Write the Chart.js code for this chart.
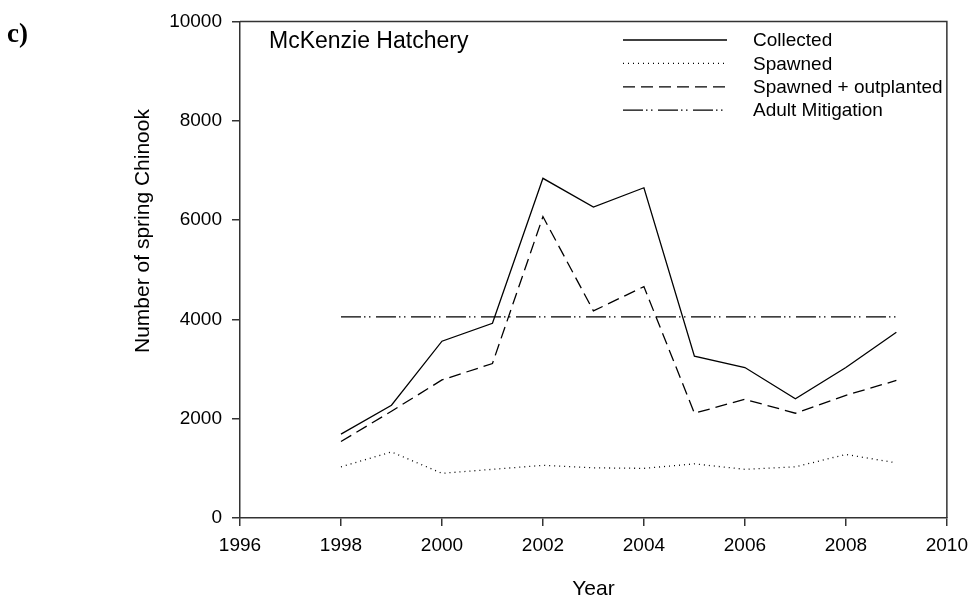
<!DOCTYPE html>
<html>
<head>
<meta charset="utf-8">
<script src="https://cdn.jsdelivr.net/npm/chart.js@4.4.1/dist/chart.umd.min.js"></script>
<style>
  html, body { margin: 0; padding: 0; background: #fff; }
  #wrap { width: 976px; height: 602px; position: relative; }
</style>
</head>
<body>
<div id="wrap"><canvas id="chart"></canvas></div>
<script>
// data
const years = [1998, 1999, 2000, 2001, 2002, 2003, 2004, 2005, 2006, 2007, 2008, 2009];
const collected = [1690, 2270, 3560, 3920, 6840, 6260, 6650, 3260, 3030, 2400, 3030, 3740];
const spawned = [1030, 1330, 900, 980, 1060, 1010, 1000, 1090, 980, 1030, 1280, 1110];
const spawnedOutplanted = [1540, 2150, 2780, 3110, 6070, 4170, 4660, 2110, 2390, 2110, 2470, 2770];
const adultMitigation = [4050, 4050, 4050, 4050, 4050, 4050, 4050, 4050, 4050, 4050, 4050, 4050];

const FONT = "'Liberation Sans', Arial, sans-serif";

function pts(vals) {
  return years.map((y, i) => ({ x: y, y: vals[i] }));
}

function line(label, vals, dash) {
  return {
    label: label,
    data: pts(vals),
    borderColor: "#000",
    borderWidth: 1.3,
    borderDash: dash,
    pointRadius: 0,
    tension: 0,
    fill: false
  };
}

// frame, legend, panel text and axis titles
const decor = {
  id: "decor",
  afterDraw(chart) {
    const ctx = chart.ctx;
    const a = chart.chartArea;
    ctx.save();
    ctx.strokeStyle = "#333";
    ctx.lineWidth = 1.5;
    ctx.beginPath();
    ctx.moveTo(a.left, a.top);
    ctx.lineTo(a.right, a.top);
    ctx.lineTo(a.right, a.bottom);
    ctx.stroke();

    ctx.fillStyle = "#000";
    ctx.textBaseline = "middle";
    ctx.textAlign = "left";
    ctx.font = "23px " + FONT;
    ctx.fillText("McKenzie Hatchery", 269, 42);

    ctx.font = "bold 27px 'Liberation Serif', 'Times New Roman', serif";
    ctx.fillText("c)", 7, 35);

    // legend
    ctx.font = "19px " + FONT;
    chart.data.datasets.forEach((ds, i) => {
      const y = 40 + i * 23.4;
      ctx.strokeStyle = "#000";
      ctx.lineWidth = 1.3;
      ctx.setLineDash(ds.borderDash || []);
      ctx.beginPath();
      ctx.moveTo(623, y);
      ctx.lineTo(727, y);
      ctx.stroke();
      ctx.setLineDash([]);
      ctx.fillText(ds.label, 753, y + 1);
    });

    // axis titles
    ctx.font = "21px " + FONT;
    ctx.textAlign = "center";
    ctx.fillText("Year", (a.left + a.right) / 2, 589);
    ctx.translate(143, 231);
    ctx.rotate(-Math.PI / 2);
    ctx.fillText("Number of spring Chinook", 0, 0);
    ctx.restore();
  }
};

new Chart(document.getElementById("chart"), {
  type: "line",
  data: {
    datasets: [
      line("Collected", collected, []),
      line("Spawned", spawned, [1, 4]),
      line("Spawned + outplanted", spawnedOutplanted, [12, 6]),
      line("Adult Mitigation", adultMitigation, [20, 3, 1.5, 3.5, 1.5, 5.5])
    ]
  },
  options: {
    responsive: true,
    maintainAspectRatio: false,
    animation: false,
    layout: { padding: { top: 14, right: 26, left: 0, bottom: 0 } },
    plugins: {
      legend: { display: false },
      tooltip: { enabled: false }
    },
    scales: {
      x: {
        type: "linear",
        min: 1996,
        max: 2010,
        afterFit: s => { s.height = 84; },
        ticks: {
          stepSize: 2,
          color: "#000",
          font: { family: FONT, size: 19 },
          padding: 8,
          maxRotation: 0,
          callback: v => String(v)
        },
        grid: { drawOnChartArea: false, tickLength: 8, color: "#333", lineWidth: 1.5 },
        border: { color: "#333", width: 1.5 }
      },
      y: {
        min: 0,
        max: 10000,
        afterFit: s => { s.width = 240; },
        ticks: {
          stepSize: 2000,
          color: "#000",
          font: { family: FONT, size: 19 },
          padding: 10,
          callback: v => String(v)
        },
        grid: { drawOnChartArea: false, tickLength: 8, color: "#333", lineWidth: 1.5 },
        border: { color: "#333", width: 1.5 }
      }
    }
  },
  plugins: [decor]
});
</script>
</body>
</html>
